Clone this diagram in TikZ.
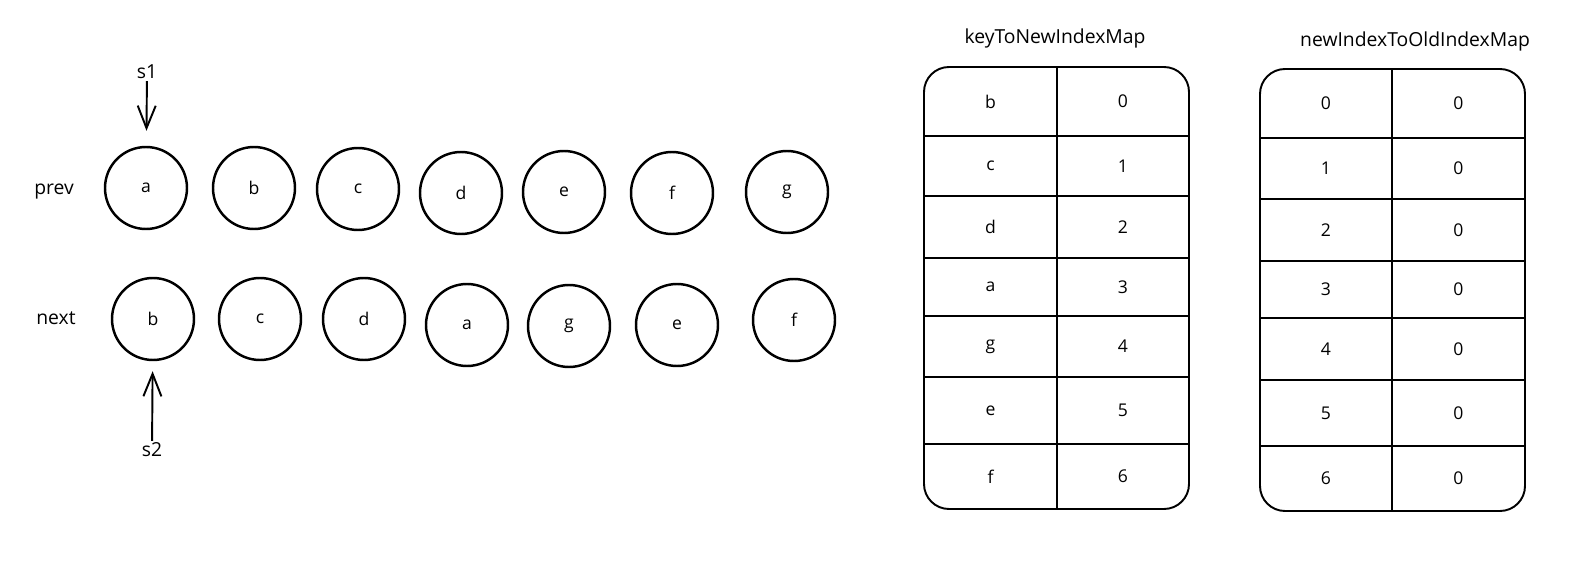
\documentclass[tikz,border=0pt]{standalone}
\usepackage{fontspec}
\setmainfont{Open Sans}
\usetikzlibrary{arrows.meta}

\begin{document}
\begin{tikzpicture}[
        >={Straight Barb[length=4.5mm,width=3.6mm]},
        elem/.style={circle, draw, line width=1.4pt, minimum size=1.64cm, inner sep=0pt, font=\fontsize{10}{12}\selectfont},
        lbl/.style={inner sep=1pt, font=\fontsize{11}{13}\selectfont},
        cell/.style={font=\fontsize{10}{12}\selectfont},
        tab/.style={draw, line width=1.1pt, rounded corners=0.5cm},
        ptr/.style={->, line width=1.1pt}
    ]
    \useasboundingbox (0,0) rectangle (31.8,11.68);

    % Sequenza prev
    \node[lbl]  (prev) at (1.08, 7.84) {prev};
    \node[elem] (pa)   at (2.92, 7.92)  {a};
    \node[elem] (pb)   at (5.08, 7.92)  {b};
    \node[elem] (pc)   at (7.16, 7.90)  {c};
    \node[elem] (pd)   at (9.22, 7.82)  {d};
    \node[elem] (pe)   at (11.28, 7.84) {e};
    \node[elem] (pf)   at (13.44, 7.82) {f};
    \node[elem] (pg)   at (15.74, 7.84) {g};

    % Sequenza next
    \node[lbl]  (next) at (1.12, 5.32) {next};
    \node[elem] (nb)   at (3.06, 5.30)  {b};
    \node[elem] (nc)   at (5.20, 5.30)  {c};
    \node[elem] (nd)   at (7.28, 5.30)  {d};
    \node[elem] (na)   at (9.34, 5.18)  {a};
    \node[elem] (ng)   at (11.38, 5.16) {g};
    \node[elem] (ne)   at (13.54, 5.18) {e};
    \node[elem] (nf)   at (15.88, 5.28) {f};

    % Puntatori
    \node[lbl] (s1) at (2.94, 10.24) {s1};
    \node[lbl] (s2) at (3.04, 2.68)  {s2};
    \draw[ptr, shorten >=3mm] (s1) -- (pa);
    \draw[ptr, shorten >=2mm] (s2) -- (nb);

    % keyToNewIndexMap
    \node[lbl] (ktitle) at (21.10, 10.92) {keyToNewIndexMap};
    \draw[tab] (18.48, 1.50) rectangle (23.78, 10.34);
    \draw[line width=1.1pt] (21.14, 10.34) -- (21.14, 1.50)
        (18.48, 8.96) -- (23.78, 8.96) (18.48, 7.76) -- (23.78, 7.76)
        (18.48, 6.52) -- (23.78, 6.52) (18.48, 5.36) -- (23.78, 5.36)
        (18.48, 4.14) -- (23.78, 4.14) (18.48, 2.80) -- (23.78, 2.80);
    \node[cell] (kb) at (19.81, 9.65) {b};  \node[cell] (k0) at (22.46, 9.65) {0};
    \node[cell] (kc) at (19.81, 8.36) {c};  \node[cell] (k1) at (22.46, 8.36) {1};
    \node[cell] (kd) at (19.81, 7.14) {d};  \node[cell] (k2) at (22.46, 7.14) {2};
    \node[cell] (ka) at (19.81, 5.94) {a};  \node[cell] (k3) at (22.46, 5.94) {3};
    \node[cell] (kg) at (19.81, 4.75) {g};  \node[cell] (k4) at (22.46, 4.75) {4};
    \node[cell] (ke) at (19.81, 3.47) {e};  \node[cell] (k5) at (22.46, 3.47) {5};
    \node[cell] (kf) at (19.81, 2.15) {f};  \node[cell] (k6) at (22.46, 2.15) {6};

    % newIndexToOldIndexMap
    \node[lbl] (ntitle) at (28.30, 10.86) {newIndexToOldIndexMap};
    \draw[tab] (25.20, 1.46) rectangle (30.50, 10.30);
    \draw[line width=1.1pt] (27.84, 10.30) -- (27.84, 1.46)
        (25.20, 8.92) -- (30.50, 8.92) (25.20, 7.70) -- (30.50, 7.70)
        (25.20, 6.46) -- (30.50, 6.46) (25.20, 5.32) -- (30.50, 5.32)
        (25.20, 4.08) -- (30.50, 4.08) (25.20, 2.76) -- (30.50, 2.76);
    \node[cell] (i0) at (26.52, 9.61) {0};  \node[cell] (o0) at (29.17, 9.61) {0};
    \node[cell] (i1) at (26.52, 8.31) {1};  \node[cell] (o1) at (29.17, 8.31) {0};
    \node[cell] (i2) at (26.52, 7.08) {2};  \node[cell] (o2) at (29.17, 7.08) {0};
    \node[cell] (i3) at (26.52, 5.89) {3};  \node[cell] (o3) at (29.17, 5.89) {0};
    \node[cell] (i4) at (26.52, 4.70) {4};  \node[cell] (o4) at (29.17, 4.70) {0};
    \node[cell] (i5) at (26.52, 3.42) {5};  \node[cell] (o5) at (29.17, 3.42) {0};
    \node[cell] (i6) at (26.52, 2.11) {6};  \node[cell] (o6) at (29.17, 2.11) {0};

\end{tikzpicture}
\end{document}
